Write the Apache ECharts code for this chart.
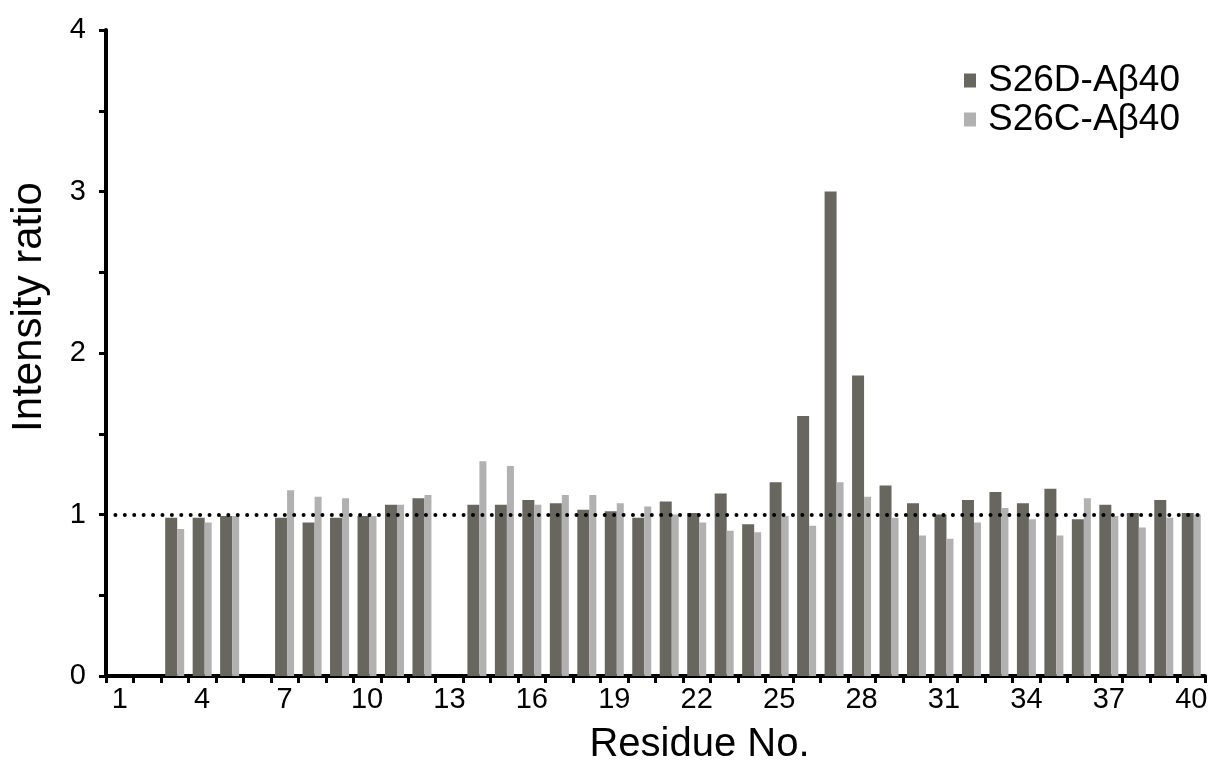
<!DOCTYPE html>
<html>
<head>
<meta charset="utf-8">
<title>Intensity ratio per residue</title>
<script src="https://cdn.jsdelivr.net/npm/echarts@6/dist/echarts.min.js"></script>
<style>
  html, body { margin: 0; padding: 0; background: #ffffff; }
  #chart { width: 1225px; height: 770px; }
</style>
</head>
<body>
<div id="chart"></div>
<script>
// Residue numbers along the x axis
const residues = ['1','2','3','4','5','6','7','8','9','10',
                  '11','12','13','14','15','16','17','18','19','20',
                  '21','22','23','24','25','26','27','28','29','30',
                  '31','32','33','34','35','36','37','38','39','40'];

// Intensity ratios (null = residue not observed)
const s26d = [null, null, 0.98, 0.98, 0.99, null, 0.98, 0.95, 0.98, 0.99,
              1.06, 1.10, null, 1.06, 1.06, 1.09, 1.07, 1.03, 1.02, 0.98,
              1.08, 1.01, 1.13, 0.94, 1.20, 1.61, 3.00, 1.86, 1.18, 1.07,
              1.00, 1.09, 1.14, 1.07, 1.16, 0.97, 1.06, 1.01, 1.09, 1.01];

const s26c = [null, null, 0.91, 0.95, 0.99, null, 1.15, 1.11, 1.10, 0.99,
              1.06, 1.12, null, 1.33, 1.30, 1.06, 1.12, 1.12, 1.07, 1.05,
              1.00, 0.95, 0.90, 0.89, 0.99, 0.93, 1.20, 1.11, 0.98, 0.87,
              0.85, 0.95, 1.04, 0.97, 0.87, 1.10, 0.99, 0.92, 0.98, 1.00];

// Reference level drawn as a dotted line
const referenceLevel = 1;

const FONT = "'Liberation Sans', Arial, Helvetica, sans-serif";

const chart = echarts.init(document.getElementById('chart'), null, { renderer: 'canvas' });

chart.setOption({
  animation: false,
  backgroundColor: '#ffffff',
  textStyle: { fontFamily: FONT, color: '#000' },
  grid: { left: 106, right: 20, top: 30, bottom: 94, containLabel: false },
  legend: {
    orient: 'vertical',
    left: 959,
    top: 57,
    itemWidth: 12,
    itemHeight: 14,
    itemGap: 2,
    icon: 'rect',
    textStyle: { fontFamily: FONT, fontSize: 37, color: '#000', padding: [0, 0, 0, 7] },
    data: ['S26D-Aβ40', 'S26C-Aβ40']
  },
  xAxis: {
    type: 'category',
    data: residues,
    boundaryGap: true,
    name: 'Residue No.',
    nameLocation: 'middle',
    nameGap: 49,
    nameTextStyle: { fontFamily: FONT, fontSize: 40, color: '#000', padding: [0, 0, 0, 88] },
    axisLine: { show: true, lineStyle: { color: '#000', width: 4 } },
    axisTick: { show: true, interval: 0, alignWithLabel: false, length: 7, lineStyle: { color: '#000', width: 3 } },
    axisLabel: { interval: 2, margin: 9, fontFamily: FONT, fontSize: 29, color: '#000' },
    splitLine: { show: false }
  },
  yAxis: {
    type: 'value',
    min: 0,
    max: 4,
    interval: 0.5,
    name: 'Intensity ratio',
    nameLocation: 'middle',
    nameGap: 56,
    nameRotate: 90,
    nameTextStyle: { fontFamily: FONT, fontSize: 42, color: '#000', padding: [0, 0, 0, 92] },
    axisLine: { show: true, lineStyle: { color: '#000', width: 4 } },
    axisTick: { show: true, length: 7, lineStyle: { color: '#000', width: 3 } },
    axisLabel: {
      margin: 20,
      fontFamily: FONT,
      fontSize: 29,
      color: '#000',
      formatter: v => (Number.isInteger(v) ? String(v) : '')
    },
    splitLine: { show: false }
  },
  series: [
    {
      name: 'S26D-Aβ40',
      type: 'bar',
      data: s26d,
      barWidth: 12,
      barGap: '0%',
      itemStyle: { color: '#67675f' },
      markLine: {
        silent: true,
        symbol: 'none',
        label: { show: false },
        lineStyle: { color: '#000', width: 4, type: [0.01, 9.4], cap: 'round' },
        data: [{ yAxis: referenceLevel }]
      },
      z: 2
    },
    {
      name: 'S26C-Aβ40',
      type: 'bar',
      data: s26c,
      barWidth: 7,
      barGap: '0%',
      itemStyle: { color: '#b1b1b1' },
      z: 2
    }
  ]
});
</script>
</body>
</html>
